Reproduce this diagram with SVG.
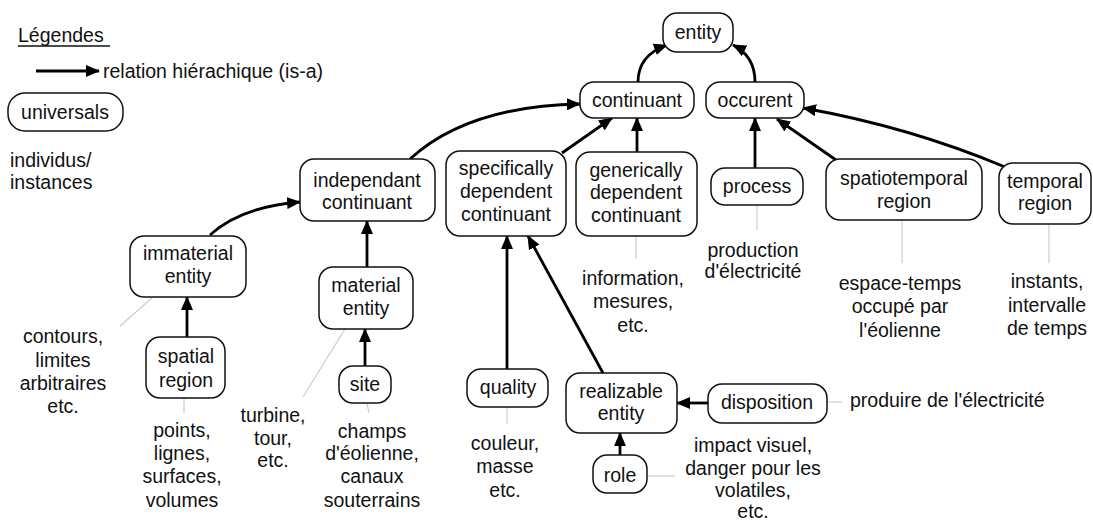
<svg xmlns="http://www.w3.org/2000/svg" width="1093" height="522" viewBox="0 0 1093 522">
<style>
text{font-family:"Liberation Sans",Arial,sans-serif;font-size:19.5px;fill:#111;text-anchor:middle}
.n rect{fill:#fff;stroke:#111;stroke-width:1.5}
.e path,.e line{fill:none;stroke:#000;stroke-width:2.8;marker-end:url(#ah)}
.i line{stroke:#ccc;stroke-width:1.2}
.l{text-anchor:start}
</style>
<defs>
<marker id="ah" markerUnits="userSpaceOnUse" markerWidth="14" markerHeight="12" refX="13" refY="6" orient="auto">
<path d="M0,0 L14,6 L0,12 z" fill="#000"/>
</marker>
</defs>
<rect width="1093" height="522" fill="#fff"/>
<g id="legend">
<text x="18" y="42" class="l">Légendes</text>
<line x1="18" y1="46" x2="110" y2="46" stroke="#111" stroke-width="1.3"/>
<line x1="36" y1="71" x2="99" y2="71" stroke="#000" stroke-width="2.8" marker-end="url(#ah)"/>
<text x="103" y="78" class="l">relation hiérachique (is-a)</text>
<g class="n"><rect x="8" y="93" width="115" height="38" rx="17"/></g>
<text x="65" y="119">universals</text>
<text x="10" y="167" class="l">individus/</text>
<text x="10" y="189" class="l">instances</text>
</g>
<g id="connectors">
<g class="e">
<path d="M638,82 C638,62 650,51 667,45"/>
<path d="M755,82 C755,62 745,51 733,45"/>
<path d="M410,159 Q468,106 580,104"/>
<line x1="562" y1="153" x2="612" y2="118"/>
<line x1="637" y1="152" x2="637" y2="118"/>
<line x1="755" y1="168" x2="755" y2="118"/>
<line x1="836" y1="160" x2="777" y2="119"/>
<path d="M1005,167 Q910,127 803,108"/>
<path d="M210,235 Q240,207 300,202"/>
<line x1="367" y1="267" x2="367" y2="221"/>
<line x1="187" y1="337" x2="187" y2="297"/>
<line x1="365" y1="366" x2="365" y2="329"/>
<line x1="507" y1="369" x2="507" y2="236"/>
<line x1="603" y1="373" x2="528" y2="236"/>
<line x1="620" y1="455" x2="620" y2="433"/>
<line x1="708" y1="403" x2="677" y2="403"/>
</g>
<g class="i">
<line x1="152" y1="298" x2="120" y2="326"/>
<line x1="184" y1="398" x2="184" y2="413"/>
<line x1="345" y1="329" x2="303" y2="397"/>
<line x1="367" y1="403" x2="369" y2="413"/>
<line x1="636" y1="236" x2="636" y2="259"/>
<line x1="757" y1="205" x2="757" y2="230"/>
<line x1="902" y1="220" x2="902" y2="263"/>
<line x1="1049" y1="224" x2="1049" y2="263"/>
<line x1="507" y1="407" x2="507" y2="424"/>
<line x1="647" y1="476" x2="675" y2="476"/>
<line x1="827" y1="402" x2="842" y2="402"/>
</g>
</g>
<g id="entity" class="n"><rect x="663" y="13" width="70" height="39" rx="14"/><text x="698" y="39">entity</text></g>
<g id="continuant" class="n"><rect x="580" y="82" width="114" height="36" rx="14"/><text x="637" y="107">continuant</text></g>
<g id="occurent" class="n"><rect x="706" y="82" width="98" height="36" rx="14"/><text x="755" y="107">occurent</text></g>
<g id="independant" class="n"><rect x="300" y="159" width="135" height="62" rx="14"/><text x="367" y="187">independant</text><text x="367" y="209">continuant</text></g>
<g id="specifically" class="n"><rect x="446" y="151" width="120" height="85" rx="14"/><text x="506" y="175">specifically</text><text x="506" y="198">dependent</text><text x="506" y="221">continuant</text></g>
<g id="generically" class="n"><rect x="576" y="152" width="121" height="84" rx="14"/><text x="636" y="177">generically</text><text x="636" y="199">dependent</text><text x="636" y="222">continuant</text></g>
<g id="process" class="n"><rect x="711" y="168" width="92" height="37" rx="14"/><text x="757" y="193">process</text></g>
<g id="spatiotemporal" class="n"><rect x="826" y="159" width="156" height="61" rx="14"/><text x="904" y="185">spatiotemporal</text><text x="904" y="208">region</text></g>
<g id="temporal" class="n"><rect x="999" y="163" width="92" height="61" rx="14"/><text x="1045" y="188">temporal</text><text x="1045" y="210">region</text></g>
<g id="immaterial" class="n"><rect x="130" y="236" width="116" height="61" rx="14"/><text x="188" y="260">immaterial</text><text x="188" y="283">entity</text></g>
<g id="spatial" class="n"><rect x="146" y="337" width="79" height="61" rx="14"/><text x="186" y="363">spatial</text><text x="186" y="387">region</text></g>
<g id="material" class="n"><rect x="319" y="267" width="94" height="62" rx="14"/><text x="366" y="292">material</text><text x="366" y="315">entity</text></g>
<g id="site" class="n"><rect x="339" y="366" width="52" height="37" rx="14"/><text x="365" y="391">site</text></g>
<g id="quality" class="n"><rect x="467" y="369" width="81" height="38" rx="14"/><text x="508" y="394">quality</text></g>
<g id="realizable" class="n"><rect x="566" y="373" width="111" height="60" rx="14"/><text x="621" y="398">realizable</text><text x="621" y="420">entity</text></g>
<g id="role" class="n"><rect x="593" y="455" width="54" height="38" rx="14"/><text x="620" y="482">role</text></g>
<g id="disposition" class="n"><rect x="708" y="384" width="119" height="39" rx="14"/><text x="767" y="409">disposition</text></g>
<g id="instances">
<text x="63" y="343">contours,</text><text x="63" y="367">limites</text><text x="63" y="390">arbitraires</text><text x="63" y="413">etc.</text>
<text x="182" y="437">points,</text><text x="182" y="460">lignes,</text><text x="182" y="483">surfaces,</text><text x="182" y="507">volumes</text>
<text x="273" y="422">turbine,</text><text x="273" y="445">tour,</text><text x="273" y="467">etc.</text>
<text x="372" y="438">champs</text><text x="372" y="460">d'éolienne,</text><text x="372" y="483">canaux</text><text x="372" y="507">souterrains</text>
<text x="505" y="450">couleur,</text><text x="505" y="473">masse</text><text x="505" y="497">etc.</text>
<text x="633" y="285">information,</text><text x="633" y="308">mesures,</text><text x="633" y="332">etc.</text>
<text x="753" y="257">production</text><text x="753" y="278">d'électricité</text>
<text x="900" y="290">espace-temps</text><text x="900" y="313">occupé par</text><text x="900" y="337">l'éolienne</text>
<text x="1047" y="288">instants,</text><text x="1047" y="312">intervalle</text><text x="1047" y="335">de temps</text>
<text x="850" y="407" class="l">produire de l'électricité</text>
<text x="753" y="452">impact visuel,</text><text x="753" y="475">danger pour les</text><text x="753" y="497">volatiles,</text><text x="753" y="518">etc.</text>
</g>
</svg>
